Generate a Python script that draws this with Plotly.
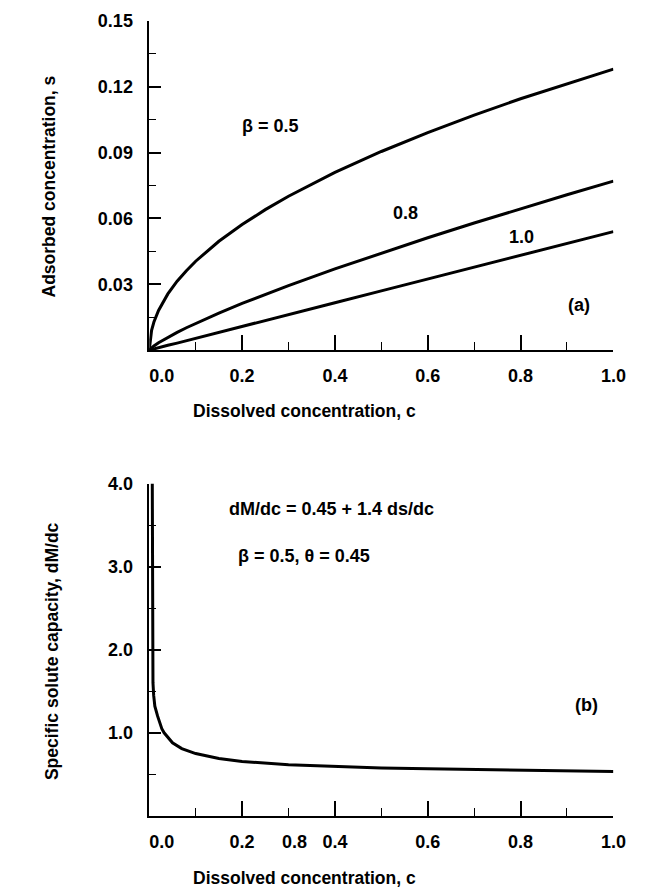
import plotly.graph_objects as go

# ---- Panel (a): adsorbed concentration s vs dissolved concentration c ----
c_a = [0.0, 0.005, 0.01, 0.02, 0.04, 0.06, 0.08, 0.10, 0.15, 0.20, 0.25, 0.30,
       0.40, 0.50, 0.60, 0.70, 0.80, 0.90, 1.00]
s_beta05 = [0.0, 0.0090, 0.0128, 0.0181, 0.0256, 0.0314, 0.0362, 0.0405, 0.0496,
            0.0572, 0.0640, 0.0701, 0.0810, 0.0905, 0.0991, 0.1071, 0.1145, 0.1214, 0.1280]
s_beta08 = [0.0, 0.0011, 0.0019, 0.0034, 0.0059, 0.0081, 0.0102, 0.0122, 0.0169,
            0.0213, 0.0254, 0.0294, 0.0370, 0.0442, 0.0512, 0.0579, 0.0644, 0.0708, 0.0770]
s_beta10 = [0.0, 0.0003, 0.0005, 0.0011, 0.0022, 0.0032, 0.0043, 0.0054, 0.0081,
            0.0108, 0.0135, 0.0162, 0.0216, 0.0270, 0.0324, 0.0378, 0.0432, 0.0486, 0.0540]

# ---- Panel (b): specific solute capacity dM/dc vs c ----
c_b = [0.0065, 0.0070, 0.0075, 0.0080, 0.0095, 0.012, 0.018, 0.022, 0.027, 0.032,
       0.040, 0.050, 0.070, 0.10, 0.15, 0.20, 0.30, 0.40, 0.50, 0.60, 0.70, 0.80, 0.90, 1.00]
dMdc = [4.00, 3.00, 2.00, 1.60, 1.45, 1.32, 1.20, 1.12, 1.05, 1.00,
        0.94, 0.88, 0.81, 0.75, 0.69, 0.655, 0.615, 0.592, 0.577, 0.566, 0.557, 0.550, 0.544, 0.535]

x_tickvals = [0.0, 0.2, 0.4, 0.6, 0.8, 1.0]
x_ticktext = ["\u00a0\u00a0\u00a0\u00a0\u00a00.0", "0.2", "0.4", "0.6", "0.8", "1.0"]
x_minor = [0.1, 0.3, 0.5, 0.7, 0.9]
ya_tickvals = [0.03, 0.06, 0.09, 0.12, 0.15]
ya_ticktext = ["0.03", "0.06", "0.09", "0.12", "0.15"]
ya_minor = [0.015, 0.045, 0.075, 0.105, 0.135]
yb_tickvals = [1.0, 2.0, 3.0, 4.0]
yb_ticktext = ["1.0", "2.0", "3.0", "4.0"]
yb_minor = [0.5, 1.5, 2.5, 3.5]

FONT = "Liberation Sans, Arial, sans-serif"
W, H = 649, 890

def px_x(x):
    return x / W

def px_y(y):
    return 1 - y / H

fig = go.Figure()
line = dict(color="black", width=3)
fig.add_trace(go.Scatter(x=c_a, y=s_beta05, mode="lines", line=line, xaxis="x", yaxis="y", showlegend=False))
fig.add_trace(go.Scatter(x=c_a, y=s_beta08, mode="lines", line=line, xaxis="x", yaxis="y", showlegend=False))
fig.add_trace(go.Scatter(x=c_a, y=s_beta10, mode="lines", line=line, xaxis="x", yaxis="y", showlegend=False))
fig.add_trace(go.Scatter(x=c_b, y=dMdc, mode="lines", line=line, xaxis="x2", yaxis="y2", showlegend=False))

xd = [px_x(132), px_x(625)]
tickfont = dict(family=FONT, size=18, color="black", weight="bold")

xcommon = dict(range=[0, 1], domain=xd, showline=True, linecolor="black", linewidth=1.5,
               showgrid=False, zeroline=False, ticks="inside", ticklen=15, tickwidth=1.5,
               tickcolor="black", tickmode="array", tickvals=x_tickvals, ticktext=x_ticktext,
               tickfont=tickfont, ticklabelstandoff=9,
               minor=dict(ticks="inside", ticklen=8, tickwidth=1.2, tickcolor="black",
                          tickmode="array", tickvals=x_minor))
fig.update_layout(
    width=W, height=H, margin=dict(l=0, r=0, t=0, b=0),
    paper_bgcolor="white", plot_bgcolor="white",
    font=dict(family=FONT, size=18, color="black", weight="bold"),
    xaxis=dict(xcommon, anchor="y"),
    xaxis2=dict(xcommon, anchor="y2"),
    yaxis=dict(range=[0, 0.15], domain=[px_y(344), px_y(11)], anchor="x",
               showline=True, linecolor="black", linewidth=1.5, showgrid=False, zeroline=False,
               ticks="inside", ticklen=12, tickwidth=1.5, tickcolor="black",
               tickmode="array", tickvals=ya_tickvals, ticktext=ya_ticktext,
               tickfont=tickfont, ticklabelstandoff=11,
               minor=dict(ticks="inside", ticklen=7, tickwidth=1.2, tickcolor="black",
                          tickmode="array", tickvals=ya_minor)),
    yaxis2=dict(range=[0, 4.0], domain=[px_y(815), px_y(479)], anchor="x2",
                showline=True, linecolor="black", linewidth=1.5, showgrid=False, zeroline=False,
                ticks="inside", ticklen=12, tickwidth=1.5, tickcolor="black",
                tickmode="array", tickvals=yb_tickvals, ticktext=yb_ticktext,
                tickfont=tickfont, ticklabelstandoff=11,
                minor=dict(ticks="inside", ticklen=7, tickwidth=1.2, tickcolor="black",
                           tickmode="array", tickvals=yb_minor)),
)

def ann(text, x, y, size=18, angle=0):
    fig.add_annotation(text=text, x=px_x(x), y=px_y(y), xref="paper", yref="paper",
                       showarrow=False, textangle=angle, xanchor="center", yanchor="middle",
                       font=dict(family=FONT, size=size, color="black", weight="bold"))

ann("Dissolved concentration, c", 297, 406, size=17.5)
ann("Dissolved concentration, c", 297, 878, size=17.5)
ann("Adsorbed concentration, s", 26, 178, size=17.5, angle=-90)
ann("Specific solute capacity, dM/dc", 28, 648, size=17.5, angle=-90)
ann("\u03b2 = 0.5", 261, 117, size=18)
ann("0.8", 404, 205, size=18)
ann("1.0", 527, 230, size=18)
ann("(a)", 588, 298, size=18)
ann("dM/dc = 0.45 + 1.4 ds/dc", 326, 505, size=18)
ann("\u03b2 = 0.5, \u03b8 = 0.45", 296, 552, size=18)
ann("(b)", 596, 703, size=18)
ann("0.8", 286, 841, size=18)

fig.write_html("out.html")
